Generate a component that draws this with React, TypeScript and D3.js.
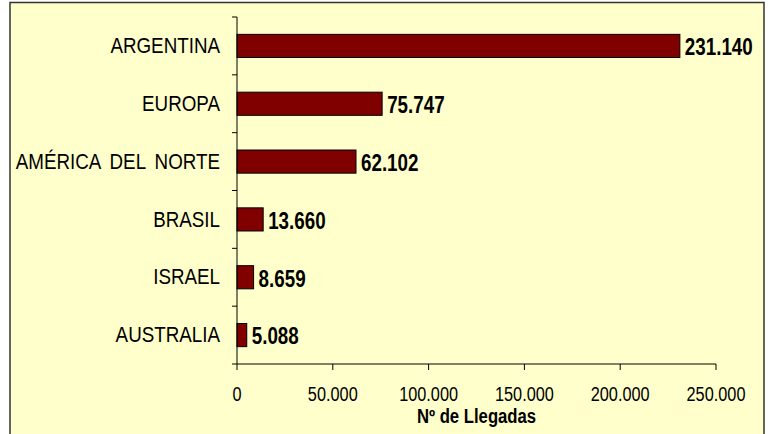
import React from "react";
import * as d3 from "d3";

const categories = ["ARGENTINA", "EUROPA", "AMÉRICA DEL NORTE", "BRASIL", "ISRAEL", "AUSTRALIA"];
const values = [231140, 75747, 62102, 13660, 8659, 5088];
const xTicks = [0, 50000, 100000, 150000, 200000, 250000];
const axisTitle = "Nº de Llegadas";

const fmt = (v: number) => d3.format(",")(v).replace(/,/g, ".");
const font = "'Liberation Sans', Arial, sans-serif";

function SText(props: { x: number; y: number; fs: number; s: number; anchor?: string; bold?: boolean; ws?: number; children: React.ReactNode }) {
  const { x, y, fs, s, anchor = "start", bold = false, ws = 0, children } = props;
  return (
    <text transform={`translate(${x},${y}) scale(1,${s})`} textAnchor={anchor} fontFamily={font} fontSize={fs} fontWeight={bold ? "bold" : "normal"} wordSpacing={ws} fill="#000">
      {children}
    </text>
  );
}

export default function App() {
  const W = 771, H = 434;
  const x0 = 237, x1 = 716, yTop = 17, yBot = 364;
  const x = d3.scaleLinear().domain([0, 250000]).range([x0, x1]);
  const y = d3.scaleBand<string>().domain(categories).range([yTop, yBot]).paddingInner(0.6).paddingOuter(0.3);
  const catFs = 18.8, catS = 1.14;
  const valFs = 18.8, valS = 1.27;
  const tickFs = 16.3, tickS = 1.2;
  const titleFs = 16.7, titleS = 1.17;
  return (
    <div style={{ position: "absolute", left: 0, top: 0 }}>
      <svg width={W} height={H} style={{ display: "block" }}>
        <rect x={10} y={2.5} width={754} height={H + 10} fill="#FFFFCC" stroke="#333" strokeWidth={1.5} />
        {categories.map((c, i) => {
          const cy = y(c)! + y.bandwidth() / 2;
          return (
            <g key={c}>
              <rect x={x(0)} y={y(c)!} width={x(values[i]) - x(0)} height={y.bandwidth()} fill="#800000" stroke="#000" strokeWidth={1} />
              <SText x={220} y={cy + 0.716 * catFs * catS / 2 - 0.5} fs={catFs} s={catS} anchor="end" ws={4}>{c}</SText>
              <SText x={x(values[i]) + 5} y={cy + 0.716 * valFs * valS / 2 + 0.8} fs={valFs} s={valS} bold>{fmt(values[i])}</SText>
            </g>
          );
        })}
        <line x1={x0} x2={x0} y1={yTop} y2={yBot} stroke="#000" strokeWidth={1} />
        {d3.range(categories.length + 1).map(k => (
          <line key={k} x1={x0 - 5} x2={x0} y1={yTop + k * (yBot - yTop) / categories.length} y2={yTop + k * (yBot - yTop) / categories.length} stroke="#000" strokeWidth={1} />
        ))}
        <line x1={x0} x2={x1} y1={yBot} y2={yBot} stroke="#000" strokeWidth={1} />
        {xTicks.map(t => (
          <g key={t}>
            <line x1={x(t)} x2={x(t)} y1={yBot} y2={yBot + 6} stroke="#000" strokeWidth={1} />
            <SText x={x(t)} y={400.7} fs={tickFs} s={tickS} anchor="middle">{fmt(t)}</SText>
          </g>
        ))}
        <SText x={(x0 + x1) / 2} y={423.3} fs={titleFs} s={titleS} anchor="middle" bold>{axisTitle}</SText>
      </svg>
    </div>
  );
}
